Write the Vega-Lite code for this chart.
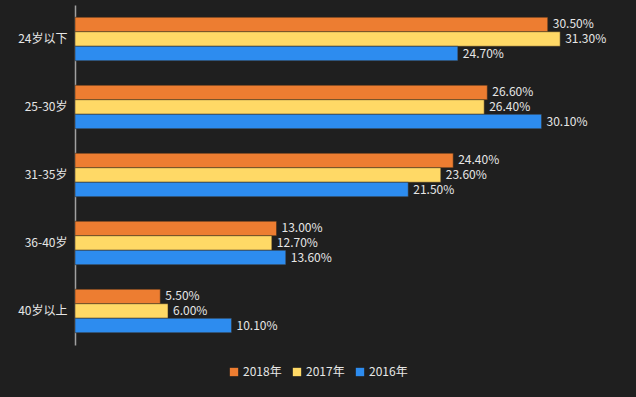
{
  "$schema": "https://vega.github.io/schema/vega-lite/v6.json",
  "width": 558,
  "height": 340,
  "autosize": {"type": "none"},
  "padding": {"left": 75, "top": 5, "right": 3, "bottom": 52},
  "background": "#1f1f1f",
  "config": {
    "view": {"stroke": null},
    "font": "Noto Sans CJK SC"
  },
  "data": {
    "values": [
      {"age": "24岁以下", "year": "2018年", "value": 0.305},
      {"age": "24岁以下", "year": "2017年", "value": 0.313},
      {"age": "24岁以下", "year": "2016年", "value": 0.247},
      {"age": "25-30岁", "year": "2018年", "value": 0.266},
      {"age": "25-30岁", "year": "2017年", "value": 0.264},
      {"age": "25-30岁", "year": "2016年", "value": 0.301},
      {"age": "31-35岁", "year": "2018年", "value": 0.244},
      {"age": "31-35岁", "year": "2017年", "value": 0.236},
      {"age": "31-35岁", "year": "2016年", "value": 0.215},
      {"age": "36-40岁", "year": "2018年", "value": 0.130},
      {"age": "36-40岁", "year": "2017年", "value": 0.127},
      {"age": "36-40岁", "year": "2016年", "value": 0.136},
      {"age": "40岁以上", "year": "2018年", "value": 0.055},
      {"age": "40岁以上", "year": "2017年", "value": 0.060},
      {"age": "40岁以上", "year": "2016年", "value": 0.101}
    ]
  },
  "encoding": {
    "y": {
      "field": "age", "type": "nominal", "sort": null,
      "scale": {"paddingInner": 0.36, "paddingOuter": 0.18},
      "axis": {"title": null, "ticks": false, "domainColor": "#a0a0a0", "domainWidth": 1.5, "labelColor": "#e6e6e6", "labelFontSize": 12, "labelPadding": 8}
    },
    "yOffset": {
      "field": "year", "type": "nominal", "sort": ["2018年", "2017年", "2016年"],
      "scale": {"paddingInner": 0, "paddingOuter": 0}
    },
    "x": {
      "field": "value", "type": "quantitative",
      "scale": {"domain": [0, 0.36], "nice": false},
      "axis": null
    }
  },
  "layer": [
    {
      "mark": {"type": "bar", "stroke": "#3a2a1a", "strokeOpacity": 0.5, "strokeWidth": 1},
      "encoding": {
        "color": {
          "field": "year", "type": "nominal",
          "scale": {"domain": ["2018年", "2017年", "2016年"], "range": ["#ED7D31", "#FFD966", "#2D8CEF"]},
          "legend": {
            "title": null, "orient": "none", "direction": "horizontal",
            "legendX": 153, "legendY": 361,
            "symbolType": "square", "symbolSize": 70, "symbolStrokeWidth": 0,
            "labelColor": "#e6e6e6", "labelFontSize": 12, "labelOffset": 3, "columnPadding": 9
          }
        }
      }
    },
    {
      "mark": {"type": "text", "align": "left", "baseline": "middle", "dx": 5, "fontSize": 12, "color": "#e6e6e6"},
      "encoding": {
        "text": {"field": "value", "type": "quantitative", "format": ".2%"}
      }
    }
  ]
}
